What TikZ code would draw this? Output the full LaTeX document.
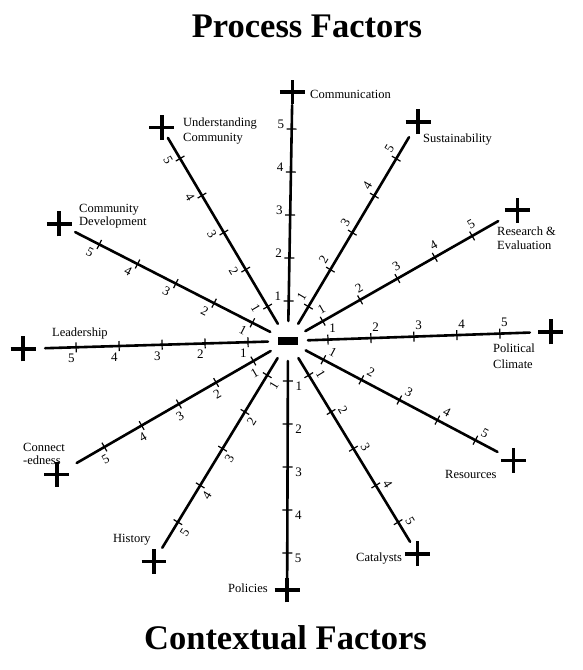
\documentclass[tikz,border=0pt]{standalone}
\usepackage{fontspec}
\setmainfont{Liberation Serif}
\usetikzlibrary{shapes.misc, calc}

\begin{document}
\begin{tikzpicture}[
    x=1pt, y=1pt,
    spoke/.style={line width=2.6pt, line cap=round},
    tickmark/.style={line width=1.2pt},
    num/.style={font=\fontsize{13}{13}\selectfont, inner sep=0pt},
    plus/.style={cross out, draw, line width=3.6pt, minimum size=14pt, rotate=45, inner sep=0pt},
    lab/.style={font=\fontsize{12.5}{14}\selectfont, align=left, inner sep=0pt, anchor=west},
    title/.style={font=\fontsize{34.5}{36}\selectfont\bfseries, inner sep=0pt, anchor=base}
]
\useasboundingbox (-288,-329) rectangle (294,341);

\node (hub) [fill=black, minimum width=20pt, minimum height=8pt, inner sep=0pt] at (0,0) {};

% spokes: name / angle / line length / plus radius / digit rotation
\foreach \id/\ang/\len/\pr/\rot in {
    comm/89/236/249/0, sust/59.3/237/255/59.3, res/29.7/242/264/29.7,
    pol/2/242/263/0, reso/-27.9/237/255/-27.9, cat/-58.7/235/249/-58.7,
    poli/-90.2/242/249/0, hist/-121.3/242/258/58.7, conn/-150/244/267/30,
    lead/181.7/243/265/0, cdev/152.9/239/257/-27.1, ucom/120.6/236/248/-59.4}{
  \coordinate (\id-in) at (\ang:20);
  \coordinate (\id-out) at (\ang:\len);
  \node (\id-plus) [plus] at (\ang:\pr) {};
  \draw[spoke] (\id-in) -- (\id-out);
  \foreach \k [evaluate=\k as \rr using 40+43*(\k-1)] in {1,...,5}{
    \draw[tickmark] ($(\ang:\rr)+(\ang+90:5)$) -- ($(\ang:\rr)+(\ang-90:5)$);
    \node[num, rotate=\rot] at ($(\ang:\rr+5)+(\ang+90:11)$) {\k};
  }
}

\node (commlab) [lab] at (22,247) {Communication};
\node (sustlab) [lab] at (135,201) {Sustainability};
\node (reslab) [lab] at (209,102.5) {Research \&\\Evaluation};
\node (pollab) [lab, font=\fontsize{12.5}{16}\selectfont] at (205,-15) {Political\\Climate};
\node (resolab) [lab] at (157,-133) {Resources};
\node (catlab) [lab] at (68,-218) {Catalysts};
\node (polilab) [lab] at (-60,-247) {Policies};
\node (histlab) [lab] at (-175,-199) {History};
\node (connlab) [lab, font=\fontsize{12.5}{13}\selectfont] at (-265,-112.5) {Connect\\-edness};
\node (leadlab) [lab] at (-236,8) {Leadership};
\node (cdevlab) [lab, font=\fontsize{12.5}{13}\selectfont] at (-209,124.5) {Community\\Development};
\node (ucomlab) [lab, font=\fontsize{12.5}{15}\selectfont] at (-105,209.5) {Understanding\\Community};

\node (top) [title] at (19,303) {Process Factors};
\node (bottom) [title] at (-2.5,-308) {Contextual Factors};
\end{tikzpicture}
\end{document}
